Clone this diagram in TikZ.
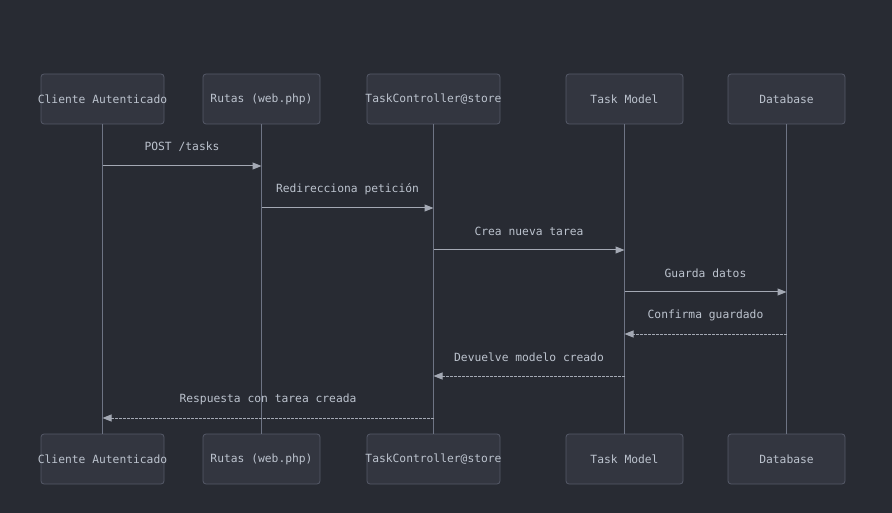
\documentclass[tikz,border=0pt]{standalone}
\usepackage{fontspec}
\setmonofont{DejaVu Sans Mono}
\usepackage{tikz}
\usetikzlibrary{arrows.meta}
\definecolor{BgDark}{HTML}{282B33}
\definecolor{BoxFill}{HTML}{333640}
\definecolor{BoxEdge}{HTML}{555A68}
\definecolor{LifeLine}{HTML}{6E7484}
\definecolor{MsgLine}{HTML}{A4A9B4}
\definecolor{TextGrey}{HTML}{BCC3CE}

\begin{document}
\begin{tikzpicture}[x=1pt, y=-1pt,
    actor/.style={draw=BoxEdge, fill=BoxFill, rounded corners=3pt, line width=0.8pt,
      minimum width=117pt, minimum height=50pt, inner sep=0pt,
      font=\ttfamily\fontsize{11.3}{13}\selectfont, text=TextGrey},
    life/.style={draw=LifeLine, line width=1pt},
    msg/.style={draw=MsgLine, line width=1pt, -{Triangle[length=9pt,width=7pt]}},
    reply/.style={msg, dash pattern=on 2.5pt off 1.5pt},
    lbl/.style={midway, yshift=19pt, font=\ttfamily\fontsize{11.3}{13}\selectfont, text=TextGrey}]
      % background and page size
      \fill[BgDark] (0,0) rectangle (892,513);
      \useasboundingbox (0,0) rectangle (892,513);
      % participants, top and bottom (long names spill over the box edge)
      \node[actor, minimum width=123pt] (cliT) at (102.5,99) {\makebox[0pt]{Cliente Autenticado}};
      \node[actor] (rutT) at (261.5,99) {Rutas (web.php)};
      \node[actor, minimum width=133pt] (ctlT) at (433.5,99) {\makebox[0pt]{TaskController@store}};
      \node[actor] (modT) at (624.5,99) {Task Model};
      \node[actor] (dbT) at (786.5,99) {Database};
      \node[actor, minimum width=123pt] (cliB) at (102.5,459) {\makebox[0pt]{Cliente Autenticado}};
      \node[actor] (rutB) at (261.5,459) {Rutas (web.php)};
      \node[actor, minimum width=133pt] (ctlB) at (433.5,459) {\makebox[0pt]{TaskController@store}};
      \node[actor] (modB) at (624.5,459) {Task Model};
      \node[actor] (dbB) at (786.5,459) {Database};
      % lifelines
      \foreach \p in {cli,rut,ctl,mod,db}
        \draw[life] (\p T) -- (\p B);
      % message rows
      \foreach \i in {1,...,7}
        \coordinate (m\i) at (0,{124+42*\i});
      \draw[msg] (cliT |- m1) -- node[lbl] {POST /tasks} (rutT |- m1);
      \draw[msg] (rutT |- m2) -- node[lbl] {Redirecciona petición} (ctlT |- m2);
      \draw[msg] (ctlT |- m3) -- node[lbl] {Crea nueva tarea} (modT |- m3);
      \draw[msg] (modT |- m4) -- node[lbl] {Guarda datos} (dbT |- m4);
      \draw[reply] (dbT |- m5) -- node[lbl] {Confirma guardado} (modT |- m5);
      \draw[reply] (modT |- m6) -- node[lbl] {Devuelve modelo creado} (ctlT |- m6);
      \draw[reply] (ctlT |- m7) -- node[lbl] {Respuesta con tarea creada} (cliT |- m7);
    \end{tikzpicture}
\end{document}
